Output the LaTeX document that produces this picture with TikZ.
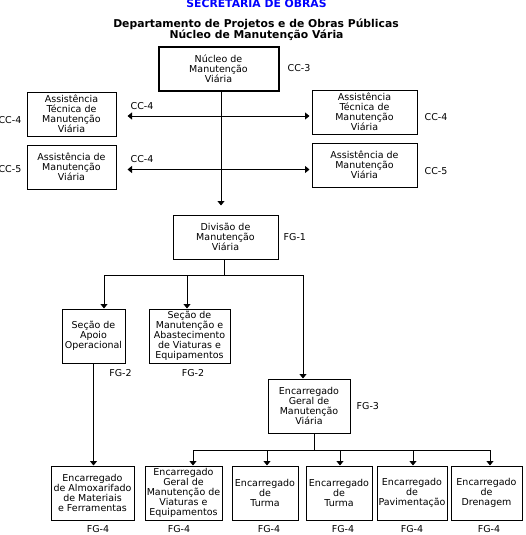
\documentclass[tikz,border=0pt]{standalone}
\usepackage{fontspec}
\setmainfont{DejaVu Sans}
\usetikzlibrary{positioning, arrows.meta}
\usepackage{xcolor}
\definecolor{titleblue}{RGB}{0, 0, 255}

\begin{document}
\begin{tikzpicture}[
  x=1pt, y=-1pt,
  unit/.style={rectangle, draw=black, line width=1pt, inner sep=0pt, minimum height=44pt, align=center, font=\fontsize{9.5}{10}\selectfont},
  lbl/.style={inner sep=0pt, font=\fontsize{9.5}{10}\selectfont},
  heading/.style={inner sep=0pt, font=\bfseries\fontsize{10.8}{11}\selectfont},
  arrow/.style={-{Triangle[width=7pt,length=4.5pt]}, line width=1pt},
  dblarrow/.style={{Triangle[width=7pt,length=4.5pt]}-{Triangle[width=7pt,length=4.5pt]}, line width=1pt},
  link/.style={line width=1pt}
]
\useasboundingbox (0,0) rectangle (525,535);

% Titles
\node[heading, text=titleblue] (sec) at (256.5,3.5) {SECRETARIA DE OBRAS};
\node[heading] (dept) at (256,24) {Departamento de Projetos e de Obras Públicas};
\node[heading] (nmv) at (256.5,35) {Núcleo de Manutenção Vária};

% Core Nodes
\node[unit, line width=2pt, minimum width=120pt, minimum height=43pt] (nucleo) at (218.5,69) {Núcleo de\\ Manutenção\\ Viária};
\node[unit, minimum width=105pt] (divisao) at (225.5,237) {Divisão de\\ Manutenção\\ Viária};

% Assistance
\node[unit, minimum width=89pt] (atl) at (71.5,114) {Assistência\\ Técnica de\\ Manutenção\\ Viária};
\node[unit, minimum width=89pt] (apl) at (71.5,167) {Assistência de\\ Manutenção\\ Viária};
\node[unit, minimum width=105pt] (atr) at (364.5,112) {Assistência\\ Técnica de\\ Manutenção\\ Viária};
\node[unit, minimum width=105pt] (apr) at (364.5,165) {Assistência de\\ Manutenção\\ Viária};

% Sections
\node[unit, minimum width=63pt, minimum height=54pt] (apoio) at (93.5,336) {Seção de\\ Apoio\\ Operacional};
\node[unit, minimum width=81pt, minimum height=54pt] (secman) at (189.5,336) {Seção de\\ Manutenção e\\ Abastecimento\\ de Viaturas e\\ Equipamentos};
\node[unit, minimum width=82pt, minimum height=54pt] (encger) at (309,406) {Encarregado\\ Geral de\\ Manutenção\\ Viária};

% Bottom row
\node[unit, minimum width=83pt, minimum height=54pt] (almox) at (92.5,493) {Encarregado\\ de Almoxarifado\\ de Materiais\\ e Ferramentas};
\node[unit, minimum width=77pt, minimum height=54pt] (viat) at (183.5,493) {Encarregado\\ Geral de\\ Manutenção de\\ Viaturas e\\ Equipamentos};
\node[unit, minimum width=66pt, minimum height=54pt] (turmaA) at (265,493) {Encarregado\\ de\\ Turma};
\node[unit, minimum width=66pt, minimum height=54pt] (turmaB) at (339,493) {Encarregado\\ de\\ Turma};
\node[unit, minimum width=70pt, minimum height=54pt] (pav) at (412,493) {Encarregado\\ de\\ Pavimentação};
\node[unit, minimum width=71pt, minimum height=54pt] (dren) at (486.5,493) {Encarregado\\ de\\ Drenagem};

% Labels
\node[lbl, right=8pt of nucleo, yshift=1pt] (cc3) {CC-3};
\node[lbl, left=5pt of atl, yshift=-6pt] (cc4l) {CC-4};
\node[lbl, left=5pt of apl, yshift=-2pt] (cc5l) {CC-5};
\node[lbl, right=7pt of atr, yshift=-5pt] (cc4r) {CC-4};
\node[lbl, right=7pt of apr, yshift=-6pt] (cc5r) {CC-5};
\node[lbl] (cc4a) at (142,106) {CC-4};
\node[lbl] (cc4b) at (142,159) {CC-4};
\node[lbl, right=5pt of divisao] (fg1) {FG-1};
\node[lbl] (fg2a) at (120.5,373) {FG-2};
\node[lbl] (fg2b) at (193,373) {FG-2};
\node[lbl, right=6pt of encger] (fg3) {FG-3};
\foreach \n/\x in {almox/98, viat/179, turmaA/269, turmaB/343, pav/412, dren/489}
  \node[lbl] (fg\n) at (\x,529.5) {FG-4};

% Arrows
\coordinate (rowA) at (0,116);
\coordinate (rowB) at (0,169.5);
\coordinate (busA) at (224,275);
\coordinate (busB) at (314,450);
\draw[arrow, shorten >=9pt] ([xshift=2.5pt]nucleo.south) -- ([xshift=2.5pt]nucleo.south |- divisao.north);
\draw[dblarrow, shorten <=11pt, shorten >=2pt] (atl.east |- rowA) -- (atr.west |- rowA);
\draw[dblarrow, shorten <=11pt, shorten >=2pt] (apl.east |- rowB) -- (apr.west |- rowB);

\draw[link] (divisao.south -| busA) -- (busA);
\foreach \n/\dx in {apoio/10.5, secman/-2.5, encger/-6}
  \draw[arrow] (busA) -| ([xshift=\dx pt]\n.north);
\draw[arrow] (apoio.south) -- (apoio.south |- almox.north);

\draw[link] (encger.south -| busB) -- (busB);
\foreach \n/\dx in {viat/9.5, turmaA/2, turmaB/1, pav/1, dren/3.5}
  \draw[arrow] (busB) -| ([xshift=\dx pt]\n.north);

\end{tikzpicture}
\end{document}
